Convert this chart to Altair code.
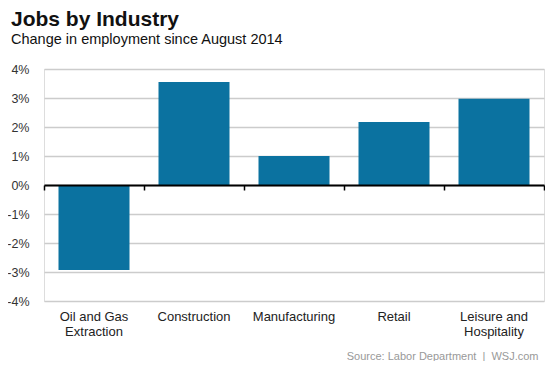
import altair as alt
import pandas as pd

categories = ["Oil and Gas Extraction", "Construction", "Manufacturing", "Retail", "Leisure and Hospitality"]
values = [-2.93, 3.55, 1.0, 2.17, 2.97]
y_ticks = [-4, -3, -2, -1, 0, 1, 2, 3, 4]

df = pd.DataFrame({"industry": categories, "change": values})

FONT = "Liberation Sans"

label_expr = (
    "datum.value == 'Oil and Gas Extraction' ? ['Oil and Gas', 'Extraction'] : "
    "datum.value == 'Leisure and Hospitality' ? ['Leisure and', 'Hospitality'] : datum.value"
)

xscale = alt.Scale(domain=categories, paddingInner=0.29, paddingOuter=0.145)
xscale_ticks = alt.Scale(domain=categories, paddingInner=0, paddingOuter=0)
yscale = alt.Scale(domain=[-4, 4], nice=False)

yaxis = alt.Axis(values=y_ticks, labelExpr="datum.value + '%'", domain=False,
                 ticks=False, grid=True, gridColor="#cccccc", gridWidth=1.5,
                 labelFont=FONT, labelFontSize=12.5, labelColor="#333",
                 labelPadding=15, title=None)

bars = alt.Chart(df).mark_bar(color="#0b72a0").encode(
    x=alt.X("industry:N", sort=categories, scale=xscale,
            axis=alt.Axis(orient="bottom", domain=False, ticks=False, labelAngle=0,
                          labelExpr=label_expr, labelFont=FONT, labelFontSize=13,
                          labelColor="#222", labelPadding=9, labelLineHeight=15,
                          title="Source: Labor Department\u00a0\u00a0|\u00a0\u00a0WSJ.com",
                          titleX=494, titleAlign="right", titleAnchor="end",
                          titleFont=FONT, titleFontSize=11,
                          titleFontWeight="normal", titleColor="#999", titlePadding=12)),
    y=alt.Y("change:Q", scale=yscale, axis=yaxis),
)

zero = alt.Chart(df).mark_bar(opacity=0).encode(
    x=alt.X("industry:N", sort=categories, scale=xscale_ticks,
            axis=alt.Axis(orient="bottom", offset=-116, labels=False, domain=True,
                          domainColor="#000", domainWidth=2, ticks=True,
                          tickBand="extent", tickColor="#000", tickWidth=1.5,
                          tickSize=5, grid=False, title=None, zindex=2)),
    y=alt.Y("change:Q", scale=yscale, axis=yaxis),
)

chart = alt.layer(bars, zero).resolve_scale(x="independent").resolve_axis(x="independent").properties(
    width=500, height=232,
    autosize=alt.AutoSizeParams(type="none"),
    padding={"left": 36, "top": 61, "right": 1, "bottom": 60},
    title=alt.TitleParams(
        text="Jobs by Industry",
        subtitle="Change in employment since August 2014",
        anchor="start", frame="group", dx=-33, offset=17,
        font=FONT, fontSize=21, fontWeight="bold", color="#111",
        subtitleFont=FONT, subtitleFontSize=14.5, subtitleColor="#111",
        subtitlePadding=3,
    ),
).configure_view(strokeWidth=0).configure(background="white")

chart.save("out.html", embed_options={"renderer": "svg", "actions": False})
